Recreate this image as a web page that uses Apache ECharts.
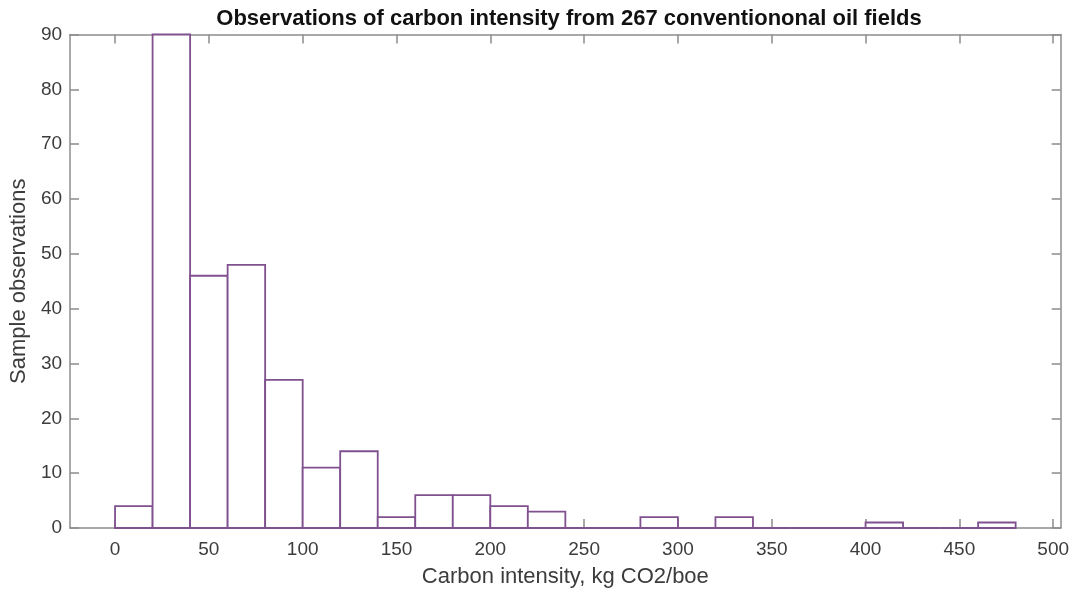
<!DOCTYPE html>
<html>
<head>
<meta charset="utf-8">
<script src="https://cdn.jsdelivr.net/npm/echarts@6/dist/echarts.min.js"></script>
<style>
  html, body { margin: 0; padding: 0; background: #ffffff; }
  #chart { width: 1072px; height: 593px; }
</style>
</head>
<body>
<div id="chart"></div>
<script>
// Histogram bins (kg CO2/boe), each 20 wide, and the field counts in each
const binStarts = [0, 20, 40, 60, 80, 100, 120, 140, 160, 180, 200, 220,
                   240, 260, 280, 300, 320, 340, 360, 380, 400, 420, 440, 460];
const binWidth = 20;
const counts = [4, 90, 46, 48, 27, 11, 14, 2, 6, 6, 4, 3,
                0, 0, 2, 0, 2, 0, 0, 0, 1, 0, 0, 1];
const xTicks = [0, 50, 100, 150, 200, 250, 300, 350, 400, 450, 500];
const yTicks = [0, 10, 20, 30, 40, 50, 60, 70, 80, 90];

const titleText = 'Observations of carbon intensity from 267 conventiononal oil fields';
const xTitle = 'Carbon intensity, kg CO2/boe';
const yTitle = 'Sample observations';

const FONT = '"Liberation Sans", Arial, Helvetica, sans-serif';
const AXIS_COLOR = '#8c8c8c';
const LABEL_COLOR = '#3c3c3c';
const BAR_EDGE = '#80508f';

const X_MIN = -24, X_MAX = 504;
const Y_MIN = yTicks[0], Y_MAX = yTicks[yTicks.length - 1];

const data = binStarts.map((s, i) => [s, s + binWidth, counts[i]]);

const chart = echarts.init(document.getElementById('chart'), null, { renderer: 'canvas' });

const boxAxisCommon = {
  axisLine: { show: true, onZero: false, lineStyle: { color: AXIS_COLOR, width: 1.5 } },
  splitLine: { show: false }
};
const tickStyle = { color: AXIS_COLOR, width: 1.5 };

chart.setOption({
  animation: false,
  backgroundColor: '#ffffff',
  title: {
    text: titleText,
    left: 564,
    top: 3,
    textAlign: 'center',
    textStyle: { fontFamily: FONT, fontSize: 22, fontWeight: 'bold', color: '#111111' }
  },
  grid: { left: 68, right: 11, top: 34.5, bottom: 60, containLabel: false },
  xAxis: [
    Object.assign({
      type: 'value', position: 'bottom', min: X_MIN, max: X_MAX,
      name: xTitle, nameLocation: 'middle', nameGap: 38,
      nameTextStyle: { fontFamily: FONT, fontSize: 22, color: LABEL_COLOR },
      axisTick: { show: true, inside: true, length: 9, customValues: xTicks, lineStyle: tickStyle },
      axisLabel: { show: true, customValues: xTicks, margin: 12,
                   fontFamily: FONT, fontSize: 19, color: LABEL_COLOR }
    }, boxAxisCommon),
    Object.assign({
      type: 'value', position: 'top', min: X_MIN, max: X_MAX,
      axisTick: { show: true, inside: true, length: 9, customValues: xTicks, lineStyle: tickStyle },
      axisLabel: { show: false }
    }, boxAxisCommon)
  ],
  yAxis: [
    Object.assign({
      type: 'value', position: 'left', min: Y_MIN, max: Y_MAX, interval: 10,
      name: yTitle, nameLocation: 'middle', nameGap: 32,
      nameTextStyle: { fontFamily: FONT, fontSize: 22, color: LABEL_COLOR },
      axisTick: { show: true, inside: true, length: 9, lineStyle: tickStyle },
      axisLabel: { show: true, margin: 8, padding: [5, 0, 0, 0],
                   fontFamily: FONT, fontSize: 19, color: LABEL_COLOR }
    }, boxAxisCommon),
    Object.assign({
      type: 'value', position: 'right', min: Y_MIN, max: Y_MAX, interval: 10,
      axisTick: { show: true, inside: true, length: 9, lineStyle: tickStyle },
      axisLabel: { show: false }
    }, boxAxisCommon)
  ],
  series: [{
    type: 'custom',
    xAxisIndex: 0,
    yAxisIndex: 0,
    data: data,
    encode: { x: [0, 1], y: 2 },
    z: 1,
    renderItem: function (params, api) {
      const p0 = api.coord([api.value(0), 0]);
      const p1 = api.coord([api.value(1), api.value(2)]);
      return {
        type: 'rect',
        shape: { x: p0[0], y: p1[1], width: p1[0] - p0[0], height: p0[1] - p1[1] },
        style: { fill: '#ffffff', stroke: BAR_EDGE, lineWidth: 1.8 }
      };
    }
  }]
});
</script>
</body>
</html>
